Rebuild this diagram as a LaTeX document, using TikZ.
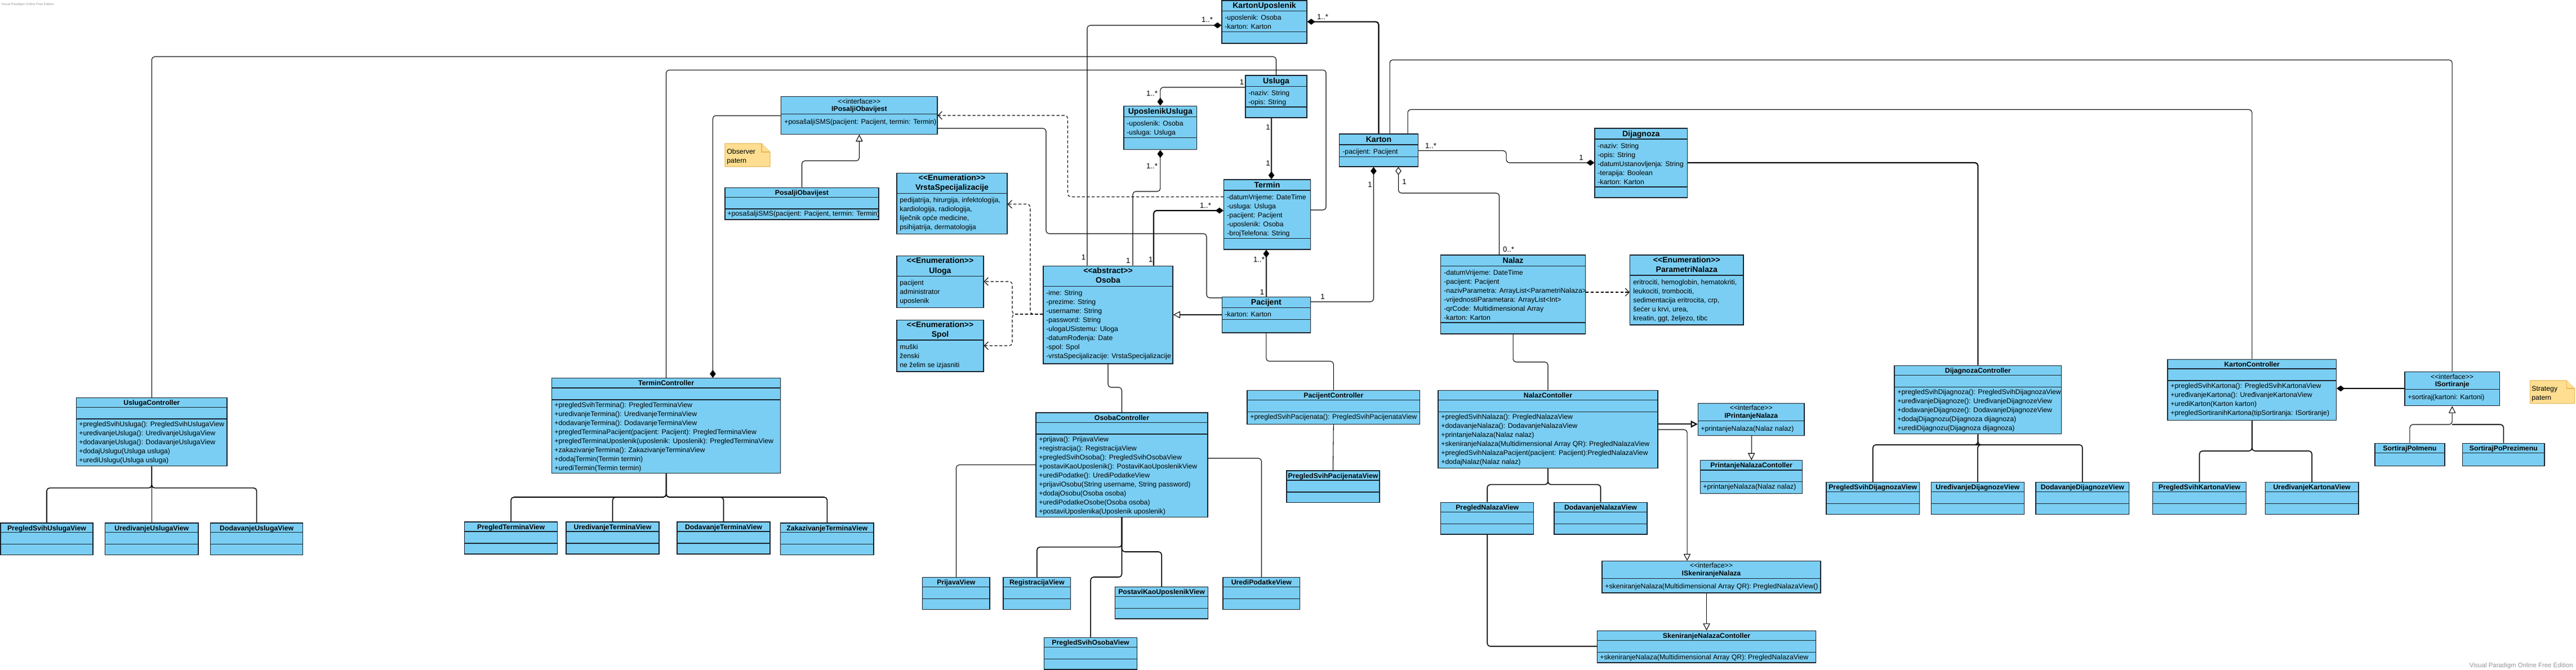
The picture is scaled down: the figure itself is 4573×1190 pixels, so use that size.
\documentclass[tikz,border=0pt]{standalone}
\usepackage{fontspec}
\setmainfont{Liberation Sans}
\usepackage{tikz}
\usetikzlibrary{arrows.meta,calc,fit,positioning}

\definecolor{plava}{RGB}{122,206,244}
\definecolor{rub}{RGB}{25,35,45}
\definecolor{biljeskaboja}{RGB}{255,222,145}
\definecolor{biljeskarub}{RGB}{232,184,92}
\definecolor{vodenisiva}{RGB}{150,150,150}

% okvir klase: ime, x0, y0, x1, y1, pregrade
\newcommand{\klasa}[6]{%
  \node[klasabox, fit={(#2,#3) (#4,#5)}] (#1) {};
  \foreach \p in {#6} {\draw[pregrada] (#2,\p) -- (#4,\p);}}
% redovi teksta u klasi
\newcommand{\stavke}[4]{%
  \foreach \t [count=\i from 0] in {#4} {\node[stavka] (#1-\i) at (#2,{#3+16*\i}) {\t};}}
\newcommand{\stereo}[1]{<\kern0pt<#1>\kern0pt>}

\begin{document}
\begin{tikzpicture}[x=0.2mm, y=-0.2mm]
	\tikzstyle{klasabox} = [draw=rub, fill=plava, line width=0.75pt, inner sep=0pt]
	\tikzstyle{pregrada} = [draw=rub, line width=0.75pt]
	\tikzstyle{stavka} = [anchor=mid west, inner sep=0pt, font=\fontsize{7}{9}\selectfont]
	\tikzstyle{naslov} = [anchor=mid, inner sep=0pt, font=\fontsize{7}{9}\selectfont\bfseries]
	\tikzstyle{naslovveci} = [anchor=mid, inner sep=0pt, font=\fontsize{8}{10}\selectfont\bfseries]
	\tikzstyle{stereotip} = [anchor=mid, inner sep=0pt, font=\fontsize{7}{9}\selectfont]
	\tikzstyle{mult} = [inner sep=0pt, font=\fontsize{7.5}{9}\selectfont]
	\tikzstyle{veza} = [draw, line width=0.6pt, rounded corners=3pt]
	\tikzstyle{debela} = [line width=1.2pt]
	\tikzstyle{grana} = [veza, line width=0.9pt]
	\tikzstyle{ovisnost} = [veza, dash pattern=on 3pt off 2pt, -{Straight Barb[length=4pt,width=8pt]}]
	\tikzstyle{kompozicija} = [veza, -{Diamond[length=8pt,width=6pt]}]
	\tikzstyle{agregacija} = [veza, -{Diamond[open,length=8pt,width=6pt,fill=white]}]
	\tikzstyle{nasljedje} = [veza, -{Triangle[open,length=7pt,width=7pt,fill=white]}]
	\tikzstyle{biljeska} = [draw=biljeskarub, fill=biljeskaboja, line width=0.6pt]
	\tikzstyle{vodeni} = [inner sep=0pt, text=vodenisiva]

	\useasboundingbox (0,0) rectangle (4573,1190);

	% domenske klase
	\klasa{kartonUp}{2169}{1}{2320}{77}{19.6,56.4}
	\node[naslovveci] (kartonUp-n) at (kartonUp.north |- 0,10) {KartonUposlenik};
	\stavke{kartonUp}{2174}{30.7}{-uposlenik: Osoba, -karton: Karton}

	\klasa{usluga}{2211}{134}{2320}{209}{153.6,190}
	\node[naslovveci] (usluga-n) at (usluga.north |- 0,143.6) {Usluga};
	\stavke{usluga}{2216}{165}{-naziv: String, -opis: String}

	\klasa{uposUsl}{1995}{188.3}{2124.6}{265.7}{207.7,244.3}
	\node[naslovveci] (uposUsl-n) at (uposUsl.north |- 0,197.5) {UposlenikUsluga};
	\stavke{uposUsl}{2000}{219}{-uposlenik: Osoba, -usluga: Usluga}

	\klasa{termin}{2172.5}{319}{2326.3}{443}{338,423.6}
	\node[naslovveci] (termin-n) at (termin.north |- 0,328.5) {Termin};
	\stavke{termin}{2178}{349.6}{-datumVrijeme: DateTime, -usluga: Usluga, -pacijent: Pacijent, -uposlenik: Osoba, -brojTelefona: String}

	\klasa{pacijent}{2169.4}{527.5}{2326.3}{591}{546.7,567.3}
	\node[naslovveci] (pacijent-n) at (pacijent.north |- 0,537) {Pacijent};
	\stavke{pacijent}{2174}{557.7}{-karton: Karton}

	\klasa{karton}{2377.6}{238}{2517.3}{296}{257,278.6}
	\node[naslovveci] (karton-n) at (karton.north |- 0,247.5) {Karton};
	\stavke{karton}{2383}{268.6}{-pacijent: Pacijent}

	\klasa{dijagnoza}{2831}{228}{2995.5}{351}{247,332}
	\node[naslovveci] (dijagnoza-n) at (dijagnoza.north |- 0,237.7) {Dijagnoza};
	\stavke{dijagnoza}{2836}{258.7}{-naziv: String, -opis: String, -datumUstanovljenja: String, -terapija: Boolean, -karton: Karton}

	\klasa{nalaz}{2557.6}{453}{2814.5}{593}{472.7,573}
	\node[naslovveci] (nalaz-n) at (nalaz.north |- 0,462.7) {Nalaz};
	\stavke{nalaz}{2563}{483.7}{-datumVrijeme: DateTime, -pacijent: Pacijent, -nazivParametra: ArrayList<ParametriNalaza>, -vrijednostiParametara: ArrayList<Int>, -qrCode: Multidimensional Array, -karton: Karton}

	\klasa{parametri}{2893.6}{453}{3095}{577}{489}
	\node[naslovveci] (parametri-s) at (parametri.north |- 0,462) {\stereo{Enumeration}};
	\node[naslovveci] (parametri-n) at (parametri.north |- 0,478.7) {ParametriNalaza};
	\stavke{parametri}{2899}{501}{{eritrociti, hemoglobin, hematokriti,}, {leukociti, trombociti,}, {sedimentacija eritrocita, crp,}, {šećer u krvi, urea,}, {kreatin, ggt, željezo, tibc}}

	\klasa{osoba}{1852}{472.3}{2082}{646}{508.3}
	\node[naslovveci] (osoba-s) at (osoba.north |- 0,481) {\stereo{abstract}};
	\node[naslovveci] (osoba-n) at (osoba.north |- 0,498.3) {Osoba};
	\stavke{osoba}{1857}{519.7}{-ime: String, -prezime: String, -username: String, -password: String, -ulogaUSistemu: Uloga, -datumRođenja: Date, -spol: Spol, -vrstaSpecijalizacije: VrstaSpecijalizacije}

	\klasa{vrsta}{1592}{307.3}{1788}{415.3}{343.3}
	\node[naslovveci] (vrsta-s) at (vrsta.north |- 0,316) {\stereo{Enumeration}};
	\node[naslovveci] (vrsta-n) at (vrsta.north |- 0,333.3) {VrstaSpecijalizacije};
	\stavke{vrsta}{1597}{355}{{pedijatrija, hirurgija, infektologija,}, {kardiologija, radiologija,}, {liječnik opće medicine,}, {psihijatrija, dermatologija}}

	\klasa{uloga}{1592}{454.3}{1746}{546.7}{490.7}
	\node[naslovveci] (uloga-s) at (uloga.north |- 0,463.3) {\stereo{Enumeration}};
	\node[naslovveci] (uloga-n) at (uloga.north |- 0,480.7) {Uloga};
	\stavke{uloga}{1597}{501.7}{pacijent, administrator, uposlenik}

	\klasa{spol}{1592}{568.3}{1746}{660}{604}
	\node[naslovveci] (spol-s) at (spol.north |- 0,577) {\stereo{Enumeration}};
	\node[naslovveci] (spol-n) at (spol.north |- 0,594) {Spol};
	\stavke{spol}{1597}{615.7}{muški, ženski, ne želim se izjasniti}

	\klasa{iposalji}{1386.8}{171.7}{1664}{238.3}{202.3}
	\node[stereotip] (iposalji-s) at (iposalji.north |- 0,179.5) {\stereo{interface}};
	\node[naslov] (iposalji-n) at (iposalji.north |- 0,192.7) {IPosaljiObavijest};
	\stavke{iposalji}{1392}{216}{{+posašaljiSMS(pacijent: Pacijent, termin: Termin)}}

	\klasa{posalji}{1287}{333.3}{1560}{390}{350.3,371}
	\node[naslov] (posalji-n) at (posalji.north |- 0,341.5) {PosaljiObavijest};
	\stavke{posalji}{1291}{379.3}{{+posašaljiSMS(pacijent: Pacijent, termin: Termin)}}

	% kontroleri
	\klasa{uslugaCtrl}{135.7}{706.7}{403}{827.7}{723.7,744}
	\node[naslov] (uslugaCtrl-n) at (uslugaCtrl.north |- 0,715) {UslugaController};
	\stavke{uslugaCtrl}{140}{753}{+pregledSvihUsluga(): PregledSvihUslugaView, +uredivanjeUsluga(): UredivanjeUslugaView, +dodavanjeUsluga(): DodavanjeUslugaView, +dodajUslugu(Usluga usluga), +urediUslugu(Usluga usluga)}

	\klasa{terminCtrl}{979.6}{671.7}{1385.7}{840.7}{689,710}
	\node[naslov] (terminCtrl-n) at (terminCtrl.north |- 0,680) {TerminController};
	\stavke{terminCtrl}{984}{719}{+pregledSvihTermina(): PregledTerminaView, +uredivanjeTermina(): UredivanjeTerminaView, +dodavanjeTermina(): DodavanjeTerminaView, +pregledTerminaPacijent(pacijent: Pacijent): PregledTerminaView, +pregledTerminaUposlenik(uposlenik: Uposlenik): PregledTerminaView, +zakazivanjeTermina(): ZakazivanjeTerminaView, +dodajTermin(Termin termin), +urediTermin(Termin termin)}

	\klasa{osobaCtrl}{1839}{733}{2144}{918.3}{750.7,771}
	\node[naslov] (osobaCtrl-n) at (osobaCtrl.north |- 0,741.5) {OsobaController};
	\stavke{osobaCtrl}{1844}{780}{+prijava(): PrijavaView, +registracija(): RegistracijaView, +pregledSvihOsoba(): PregledSvihOsobaView, +postaviKaoUposlenik(): PostaviKaoUposlenikView, +urediPodatke(): UrediPodatkeView, {+prijaviOsobu(String username, String password)}, +dodajOsobu(Osoba osoba), +urediPodatkeOsobe(Osoba osoba), +postaviUposlenika(Uposlenik uposlenik)}

	\klasa{pacijentCtrl}{2214}{693.4}{2520.6}{753.3}{710.6,731.6}
	\node[naslov] (pacijentCtrl-n) at (pacijentCtrl.north |- 0,701.5) {PacijentController};
	\stavke{pacijentCtrl}{2219}{740}{+pregledSvihPacijenata(): PregledSvihPacijenataView}

	\klasa{nalazCtrl}{2552.9}{693.4}{2943}{831.8}{710.6,731.6}
	\node[naslov] (nalazCtrl-n) at (nalazCtrl.north |- 0,701.5) {NalazContoller};
	\stavke{nalazCtrl}{2558}{740}{+pregledSvihNalaza(): PregledNalazaView, +dodavanjeNalaza(): DodavanjeNalazaView, +printanjeNalaza(Nalaz nalaz), +skeniranjeNalaza(Multidimensional Array QR): PregledNalazaView, +pregledSvihNalazaPacijent(pacijent: Pacijent):PregledNalazaView, +dodajNalaz(Nalaz nalaz)}

	\klasa{iprint}{3014.5}{716.5}{3203}{773.3}{747.8}
	\node[stereotip] (iprint-s) at (iprint.north |- 0,723.5) {\stereo{interface}};
	\node[naslov] (iprint-n) at (iprint.north |- 0,737.8) {IPrintanjeNalaza};
	\stavke{iprint}{3019}{761}{+printanjeNalaza(Nalaz nalaz)}

	\klasa{printCtrl}{3018.7}{817.7}{3199.7}{876.2}{835,855.6}
	\node[naslov] (printCtrl-n) at (printCtrl.north |- 0,826) {PrintanjeNalazaContoller};
	\stavke{printCtrl}{3023}{864}{+printanjeNalaza(Nalaz nalaz)}

	\klasa{iskenir}{2844}{996.8}{3232}{1052.9}{1027.7}
	\node[stereotip] (iskenir-s) at (iskenir.north |- 0,1004) {\stereo{interface}};
	\node[naslov] (iskenir-n) at (iskenir.north |- 0,1017.8) {ISkeniranjeNalaza};
	\stavke{iskenir}{2849}{1040.8}{+skeniranjeNalaza(Multidimensional Array QR): PregledNalazaView()}

	\klasa{skenCtrl}{2835.6}{1120.4}{3223.5}{1176.9}{1137.3,1158.6}
	\node[naslov] (skenCtrl-n) at (skenCtrl.north |- 0,1129) {SkeniranjeNalazaContoller};
	\stavke{skenCtrl}{2840}{1166.5}{+skeniranjeNalaza(Multidimensional Array QR): PregledNalazaView}

	\klasa{dijagCtrl}{3362.9}{649.3}{3659.7}{770.7}{666.3,687.7}
	\node[naslov] (dijagCtrl-n) at (dijagCtrl.north |- 0,657.5) {DijagnozaController};
	\stavke{dijagCtrl}{3368}{696}{+pregledSvihDijagnoza(): PregledSvihDijagnozaView, +uređivanjeDijagnoze(): UređivanjeDijagnozeView, +dodavanjeDijagnoze(): DodavanjeDijagnozeView, +dodajDijagnozu(Dijagnoza dijagnoza), +urediDijagnozu(Dijagnoza dijagnoza)}

	\klasa{kartonCtrl}{3848}{638.3}{4147.5}{746.7}{655,676}
	\node[naslov] (kartonCtrl-n) at (kartonCtrl.north |- 0,646.5) {KartonController};
	\stavke{kartonCtrl}{3853}{685}{+pregledSvihKartona(): PregledSvihKartonaView, +uređivanjeKartona(): UređivanjeKartonaView, +urediKarton(Karton karton), +pregledSortiranihKartona(tipSortiranja: ISortiranje)}

	\klasa{isort}{4269}{660.3}{4437.3}{720.7}{691.3}
	\node[stereotip] (isort-s) at (isort.north |- 0,668.5) {\stereo{interface}};
	\node[naslov] (isort-n) at (isort.north |- 0,681.7) {ISortiranje};
	\stavke{isort}{4274}{705.3}{+sortiraj(kartoni: Kartoni)}

	% pogledi
	\klasa{pregledUsluga}{1}{929}{165}{985.7}{945.7,966.7}
	\node[naslov] (pregledUsluga-n) at (pregledUsluga.north |- 0,937.5) {PregledSvihUslugaView};
	\klasa{uredUsluga}{186.7}{929}{352}{985.7}{945.7,966.7}
	\node[naslov] (uredUsluga-n) at (uredUsluga.north |- 0,937.5) {UredivanjeUslugaView};
	\klasa{dodUsluga}{373.5}{929}{537.8}{985.7}{945.7,966.7}
	\node[naslov] (dodUsluga-n) at (dodUsluga.north |- 0,937.5) {DodavanjeUslugaView};

	\klasa{pregledTermina}{824.5}{927}{989.8}{984}{944,965}
	\node[naslov] (pregledTermina-n) at (pregledTermina.north |- 0,935.5) {PregledTerminaView};
	\klasa{uredTermina}{1005}{927}{1170}{984}{944,965}
	\node[naslov] (uredTermina-n) at (uredTermina.north |- 0,935.5) {UredivanjeTerminaView};
	\klasa{dodTermina}{1202}{927}{1367}{984}{944,965}
	\node[naslov] (dodTermina-n) at (dodTermina.north |- 0,935.5) {DodavanjeTerminaView};
	\klasa{zakTermina}{1385.7}{929}{1551}{985.7}{945.7,966.7}
	\node[naslov] (zakTermina-n) at (zakTermina.north |- 0,937.5) {ZakazivanjeTerminaView};

	\klasa{prijava}{1637.8}{1025.7}{1757}{1082.3}{1042.7,1063.3}
	\node[naslov] (prijava-n) at (prijava.north |- 0,1034) {PrijavaView};
	\klasa{registracija}{1781}{1025.7}{1900.7}{1082.3}{1042.7,1063.3}
	\node[naslov] (registracija-n) at (registracija.north |- 0,1034) {RegistracijaView};
	\klasa{postavi}{1979.4}{1042.7}{2144.7}{1099}{1059.7,1080.3}
	\node[naslov] (postavi-n) at (postavi.north |- 0,1051) {PostaviKaoUposlenikView};
	\klasa{pregledOsoba}{1853.7}{1132.3}{2018.4}{1189}{1149.3,1170.3}
	\node[naslov] (pregledOsoba-n) at (pregledOsoba.north |- 0,1140.5) {PregledSvihOsobaView};
	\klasa{urediPodatke}{2171}{1025.7}{2307.7}{1082.3}{1042.7,1063.3}
	\node[naslov] (urediPodatke-n) at (urediPodatke.north |- 0,1034) {UrediPodatkeView};

	\klasa{pregledPacijenata}{2284}{836}{2449}{892.4}{853,874}
	\node[naslov] (pregledPacijenata-n) at (pregledPacijenata.north |- 0,844.5) {PregledSvihPacijenataView};

	\klasa{pregledNalaza}{2557.8}{892.4}{2722.6}{949}{909.3,930.6}
	\node[naslov] (pregledNalaza-n) at (pregledNalaza.north |- 0,901) {PregledNalazaView};
	\klasa{dodNalaza}{2759}{892.4}{2924}{949}{909.3,930.6}
	\node[naslov] (dodNalaza-n) at (dodNalaza.north |- 0,901) {DodavanjeNalazaView};

	\klasa{pregledDijag}{3242}{856.7}{3407.5}{913.3}{873.3,894.3}
	\node[naslov] (pregledDijag-n) at (pregledDijag.north |- 0,865) {PregledSvihDijagnozaView};
	\klasa{uredDijag}{3428.5}{856.7}{3593.2}{913.3}{873.3,894.3}
	\node[naslov] (uredDijag-n) at (uredDijag.north |- 0,865) {UređivanjeDijagnozeView};
	\klasa{dodDijag}{3614}{856.7}{3779.7}{913.3}{873.3,894.3}
	\node[naslov] (dodDijag-n) at (dodDijag.north |- 0,865) {DodavanjeDijagnozeView};

	\klasa{pregledKartona}{3821.7}{856.7}{3987.2}{913.3}{873.3,894.3}
	\node[naslov] (pregledKartona-n) at (pregledKartona.north |- 0,865) {PregledSvihKartonaView};
	\klasa{uredKartona}{4021.4}{856.7}{4186.9}{913.3}{873.3,894.3}
	\node[naslov] (uredKartona-n) at (uredKartona.north |- 0,865) {UređivanjeKartonaView};

	\klasa{sortIme}{4215.8}{787.3}{4340}{827.7}{804.3}
	\node[naslov] (sortIme-n) at (sortIme.north |- 0,795.5) {SortirajPoImenu};
	\klasa{sortPrezime}{4371.6}{787.3}{4517}{827.7}{804.3}
	\node[naslov] (sortPrezime-n) at (sortPrezime.north |- 0,795.5) {SortirajPoPrezimenu};

	% biljeske
	\draw[biljeska] (1287,255) -- (1352,255) -- (1367,270) -- (1367,296) -- (1287,296) -- cycle;
	\draw[biljeska] (1352,255) -- (1352,270) -- (1367,270);
	\stavke{observer}{1290}{268.7}{Observer, patern}
	\draw[biljeska] (4491.6,676) -- (4556,676) -- (4570.4,690) -- (4570.4,716.7) -- (4491.6,716.7) -- cycle;
	\draw[biljeska] (4556,676) -- (4556,690) -- (4570.4,690);
	\stavke{strategy}{4494}{690}{Strategy, patern}

	% veze izmedju domenskih klasa
	\draw[veza] (uslugaCtrl.north) -- (uslugaCtrl.north |- 0,100.7) -| (usluga.north);
	\draw[veza] (terminCtrl.north) -- (terminCtrl.north |- 0,124.3) -| (2354,373) -- (termin.east |- 0,373);
	\draw[kompozicija] (iposalji.west |- 0,205.3) -| (terminCtrl.north -| 1265.4,0);
	\draw[nasljedje] (posalji.north) -- (posalji.north |- 0,285.7) -| (iposalji.south);
	\draw[ovisnost] (termin.west |- 0,349.6) -| (1895.4,205) -- (iposalji.east |- 0,205);
	\draw[veza] (iposalji.east |- 0,228) -| (1857,415) -| (2142,529) -- (pacijent.west |- 0,529);
	\draw[kompozicija] (osoba.north -| 1930,0) |- (kartonUp.west |- 0,45);
	\draw[kompozicija, debela] (karton.north) |- (kartonUp.east |- 0,38.6);
	\draw[kompozicija] (usluga.west |- 0,155) -| (uposUsl.north);
	\draw[kompozicija] (osoba.north -| 2011,0) |- (uposUsl.south |- 0,340) -- (uposUsl.south);
	\draw[kompozicija] (usluga.south -| 2257,0) -- (termin.north -| 2257,0);
	\draw[kompozicija, debela] (osoba.north -| 2048,0) |- (termin.west |- 0,374);
	\draw[kompozicija, debela] (pacijent.north) -- (termin.south -| pacijent.north);
	\draw[nasljedje] (pacijent.west |- 0,559) -- (osoba.east |- 0,559);
	\draw[kompozicija] (pacijent.east |- 0,536) -| (karton.south -| 2438.4,0);
	\draw[agregacija] (nalaz.north -| 2661.6,0) |- (2482.5,343) -- (karton.south -| 2482.5,0);
	\draw[kompozicija] (karton.east |- 0,267.7) -| (2674,289) -- (dijagnoza.west |- 0,289);
	\draw[ovisnost] (nalaz.east |- 0,519) -- (parametri.west |- 0,519);
	\draw[ovisnost] (osoba.west |- 0,558) -| (1829,362.7) -- (vrsta.east |- 0,362.7);
	\draw[ovisnost] (osoba.west |- 0,558) -| (1797,500) -- (uloga.east |- 0,500);
	\draw[ovisnost] (osoba.west |- 0,558) -| (1797,614) -- (spol.east |- 0,614);

	% veze prema kontrolerima
	\draw[veza, debela] (dijagnoza.east |- 0,289) -| (dijagCtrl.north);
	\draw[veza] (karton.north -| 2499,0) |- (kartonCtrl.north |- 0,194.6) -- (kartonCtrl.north);
	\draw[veza] (karton.north -| 2467,0) |- (isort.north |- 0,106.4) -- (isort.north);
	\draw[veza] (nalaz.south) |- (nalazCtrl.north |- 0,643) -- (nalazCtrl.north);
	\draw[veza] (pacijent.south) |- (pacijentCtrl.north |- 0,641.7) -- (pacijentCtrl.north);
	\draw[veza] (osoba.south) |- (osobaCtrl.north |- 0,688) -- (osobaCtrl.north);

	% kontroleri i pogledi
	\foreach \v in {pregledUsluga,uredUsluga,dodUsluga}
		\draw[grana] (uslugaCtrl.south) |- (\v.north |- 0,866.7) -- (\v.north);
	\foreach \v in {pregledTermina,uredTermina,dodTermina,zakTermina}
		\draw[grana] (terminCtrl.south) |- (\v.north |- 0,883) -- (\v.north);
	\draw[veza] (osobaCtrl.west |- 0,825.7) -| (prijava.north);
	\draw[veza] (osobaCtrl.east |- 0,814) -| (urediPodatke.north);
	\draw[grana] (osobaCtrl.south) |- (registracija.north |- 0,971.7) -- (registracija.north);
	\draw[grana] (osobaCtrl.south) |- (postavi.north |- 0,980) -- (postavi.north);
	\draw[grana] (osobaCtrl.south) |- (pregledOsoba.north |- 0,1025) -- (pregledOsoba.north);
	\draw[veza] (pacijentCtrl.south) -- (pregledPacijenata.north);
	\foreach \v in {pregledNalaza,dodNalaza}
		\draw[grana] (nalazCtrl.south) |- (\v.north |- 0,860.7) -- (\v.north);
	\draw[grana] (pregledNalaza.south) |- (skenCtrl.west |- 0,1148);
	\draw[nasljedje, debela] (nalazCtrl.east |- 0,753.3) -- (iprint.west |- 0,753.3);
	\draw[nasljedje] (nalazCtrl.east |- 0,763) -| (iskenir.north -| 2995,0);
	\draw[nasljedje] (iprint.south -| printCtrl.north) -- (printCtrl.north);
	\draw[nasljedje] (iskenir.south -| skenCtrl.north) -- (skenCtrl.north);
	\foreach \v in {pregledDijag,uredDijag,dodDijag}
		\draw[grana] (dijagCtrl.south) |- (\v.north |- 0,790) -- (\v.north);
	\foreach \v in {pregledKartona,uredKartona}
		\draw[grana] (kartonCtrl.south) |- (\v.north |- 0,801) -- (\v.north);
	\draw[kompozicija, debela] (isort.west |- 0,690) -- (kartonCtrl.east |- 0,690);
	\draw[nasljedje] (sortIme.north) |- (isort.south |- 0,754) -- (isort.south);
	\draw[grana] (sortPrezime.north) |- (isort.south |- 0,754);

	% multiplicitet
	\node[mult] (m-ku1) at (2143,35) {1..*};
	\node[mult] (m-ku2) at (2348,30) {1..*};
	\node[mult] (m-ko1) at (1923.4,456.7) {1};
	\node[mult] (m-us1) at (2204.6,146) {1};
	\node[mult] (m-us2) at (2045,165.7) {1..*};
	\node[mult] (m-us3) at (2251,226) {1};
	\node[mult] (m-us4) at (2251,290) {1};
	\node[mult] (m-uu1) at (2045,295) {1..*};
	\node[mult] (m-uu2) at (2002.7,462.7) {1};
	\node[mult] (m-te1) at (2140,364.5) {1..*};
	\node[mult] (m-te2) at (2042.7,461) {1};
	\node[mult] (m-te3) at (2235,461) {1..*};
	\node[mult] (m-te4) at (2240.5,519) {1};
	\node[mult] (m-pa1) at (2348,527) {1};
	\node[mult] (m-ka1) at (2432,328) {1};
	\node[mult] (m-ka2) at (2493,323) {1};
	\node[mult] (m-na1) at (2678,443) {0..*};
	\node[mult] (m-ka3) at (2540,259) {1..*};
	\node[mult] (m-di1) at (2807,280) {1};

	% vodeni zig
	\node[vodeni, anchor=west, font=\fontsize{3.3}{4}\selectfont] (vodeni1) at (2,8) {Visual Paradigm Online Free Edition};
	\node[vodeni, anchor=east, font=\fontsize{6.5}{8}\selectfont] (vodeni2) at (4568,1183) {Visual Paradigm Online Free Edition};
\end{tikzpicture}
\end{document}
